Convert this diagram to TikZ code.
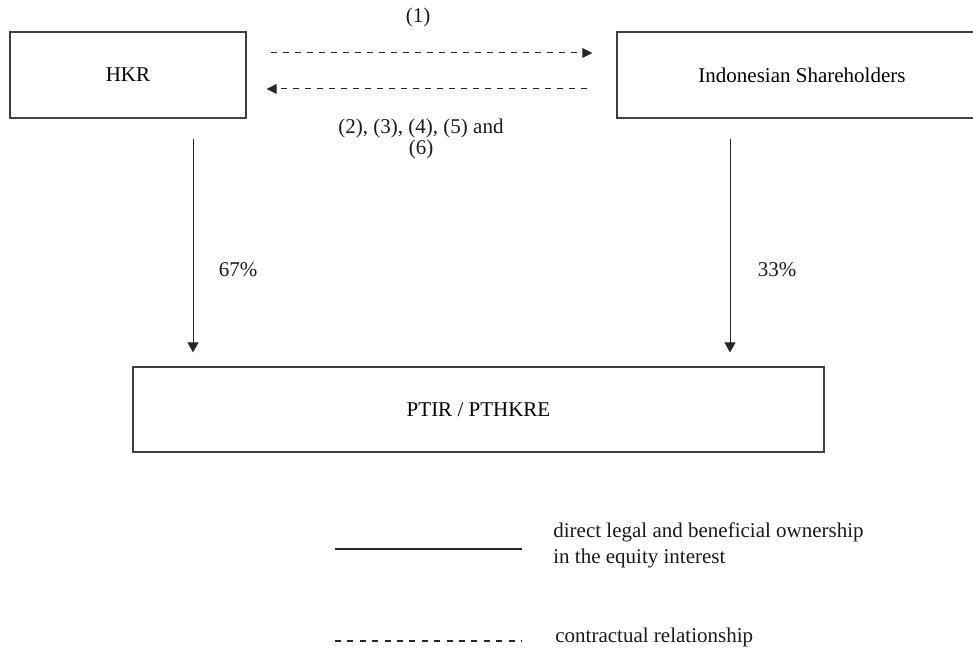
\documentclass[tikz,border=0pt]{standalone}
\usepackage{fontspec}
\setmainfont{Liberation Serif}
\usetikzlibrary{arrows.meta,calc}
\begin{document}
\begin{tikzpicture}[x=0.5pt,y=-0.5pt,
  box/.style={draw=black!75,line width=0.6pt,rectangle,inner sep=0pt,font=\fontsize{10.5}{10}\selectfont},
  own/.style={draw=black!85,line width=0.5pt,-{Triangle[width=5.5pt,length=5pt]}},
  contract/.style={draw=black!85,line width=0.5pt,dash pattern=on 3.3pt off 2.7pt,-{Triangle[width=4.8pt,length=5pt]}},
  lbl/.style={font=\fontsize{10.5}{10.5}\selectfont,text=black!90,inner sep=0pt,align=center},
  legtxt/.style={font=\fontsize{10.5}{13}\selectfont,text=black!90,inner sep=0pt,align=left,anchor=west}]
\useasboundingbox (0,0) rectangle (973,651);
% boxes
\node[box,minimum width=118pt,minimum height=43pt] (hkr) at (128,75) {HKR};
\node[box,minimum width=185pt,minimum height=43pt] (ind) at (802,75) {Indonesian Shareholders};
\node[box,minimum width=345.5pt,minimum height=42.5pt] (ptir) at (478.5,409.5) {PTIR / PTHKRE};
% contractual arrows
\draw[contract] ([xshift=12pt,yshift=11pt]hkr.east) -- ([xshift=-12pt,yshift=11pt]ind.west);
\draw[contract] ([xshift=-14.5pt,yshift=-7pt]ind.west) -- ([xshift=10pt,yshift=-7pt]hkr.east);
\node[lbl] (c1) at (418,17) {(1)};
\node[lbl] (c2) at (421,139) {(2), (3), (4), (5) and\\(6)};
% ownership arrows
\coordinate (ptop) at ([yshift=7pt]ptir.north);
\coordinate (hs) at ([xshift=32.5pt,yshift=-10pt]hkr.south);
\coordinate (is) at ([xshift=-36pt,yshift=-10pt]ind.south);
\draw[own] (hs) -- (hs |- ptop);
\draw[own] (is) -- (is |- ptop);
\node[lbl] (p67) at (238,270) {67\%};
\node[lbl] (p33) at (777,270) {33\%};
% legend
\coordinate (l1a) at (335,549);
\coordinate (l1b) at (522,549);
\draw[black!85,line width=0.6pt] (l1a) -- (l1b);
\node[legtxt] (l1t) at (553,545) {direct legal and beneficial ownership\\in the equity interest};
\coordinate (l2a) at (335,641);
\coordinate (l2b) at (522,641);
\draw[black!85,line width=0.55pt,dash pattern=on 3pt off 3.2pt] (l2a) -- (l2b);
\node[legtxt] (l2t) at (555,637) {contractual relationship};
\end{tikzpicture}
\end{document}
